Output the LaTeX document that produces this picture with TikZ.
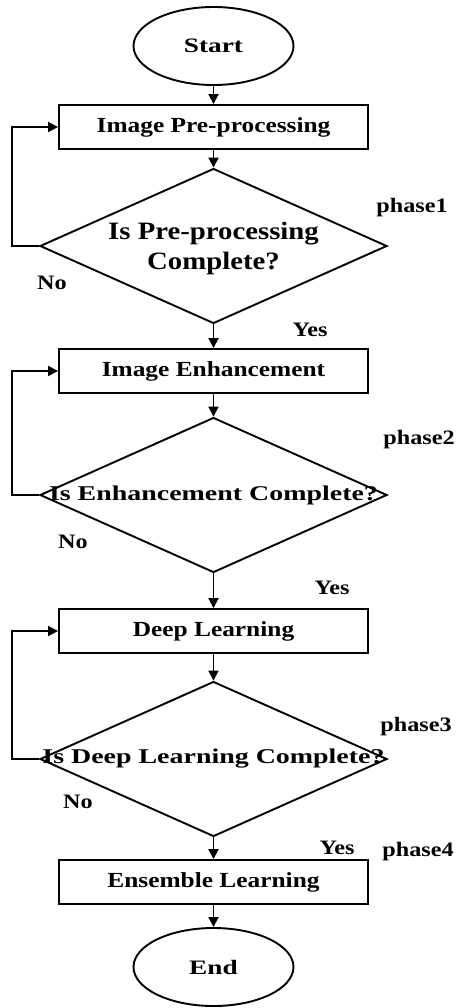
\documentclass[tikz,border=0pt]{standalone}
\usepackage{fontspec}
\setmainfont{Liberation Serif}
\newfontfamily\fa{Liberation Serif}[FakeStretch=1.18]
\newfontfamily\fb{Liberation Serif}[FakeStretch=1.33]
\newfontfamily\fc{Liberation Serif}[FakeStretch=1.15]
\usetikzlibrary{shapes.geometric,arrows.meta}
\begin{document}
\begin{tikzpicture}[x=1pt,y=-1pt,
  line width=1.9pt,
  arr/.style={-{Triangle[length=10pt,width=10pt]}},
  term/.style={ellipse,draw,minimum width=160pt,minimum height=78pt,inner sep=0pt,font=\fb\bfseries\fontsize{20.5}{24}\selectfont},
  proc/.style={rectangle,draw,minimum width=309pt,minimum height=44pt,inner sep=0pt,font=\fa\bfseries\fontsize{21.5}{25}\selectfont},
  dec/.style={diamond,draw,minimum width=347pt,minimum height=155pt,inner sep=0pt,aspect=2.2},
  dtext/.style={align=center,inner sep=0pt,font=\fb\bfseries\fontsize{21}{25}\selectfont},
  dtexta/.style={align=center,inner sep=0pt,font=\fc\bfseries\fontsize{25}{30}\selectfont},
  lab/.style={inner sep=0pt,font=\fa\bfseries\fontsize{20.5}{24}\selectfont}]
\useasboundingbox (0,0) rectangle (459,1008);
% nodes
\node[term] (start) at (213.5,46) {Start};
\node[proc] (b1) at (213.5,127) {Image Pre-processing};
\node[dec] (d1) at (213.5,246) {};
\node[dtexta] (t1) at (213.5,248) {Is Pre-processing\\Complete?};
\node[proc] (b2) at (213.5,371) {Image Enhancement};
\node[dec] (d2) at (213.5,495) {};
\node[dtext] (t2) at (213.5,495) {Is Enhancement Complete?};
\node[proc] (b3) at (213.5,631) {Deep Learning};
\node[dec] (d3) at (213.5,759) {};
\node[dtext] (t3) at (213.5,759) {Is Deep Learning Complete?};
\node[proc] (b4) at (213.5,882) {Ensemble Learning};
\node[term] (end) at (213.5,967) {End};
% labels
\node[lab] (p1) at (412,208) {phase1};
\node[lab] (p2) at (419,440) {phase2};
\node[lab] (p3) at (416,727) {phase3};
\node[lab] (p4) at (418,852) {phase4};
\node[lab] (n1) at (52,283) {No};
\node[lab] (n2) at (73,542) {No};
\node[lab] (n3) at (78,802) {No};
\node[lab] (y1) at (310,330) {Yes};
\node[lab] (y2) at (332,588) {Yes};
\node[lab] (y3) at (337,848) {Yes};
% connectors
\draw[arr] (start) -- (b1);
\draw[arr] (b1) -- (d1.north);
\draw[arr] (d1.south) -- (b2);
\draw[arr] (b2) -- (d2.north);
\draw[arr] (d2.south) -- (b3);
\draw[arr] (b3) -- (d3.north);
\draw[arr] (d3.south) -- (b4);
\draw[arr] (b4) -- (end);
\draw[arr] (d1.west) -- ++(-27,0) |- (b1.west);
\draw[arr] (d2.west) -- ++(-27,0) |- (b2.west);
\draw[arr] (d3.west) -- ++(-27,0) |- (b3.west);
\end{tikzpicture}
\end{document}
